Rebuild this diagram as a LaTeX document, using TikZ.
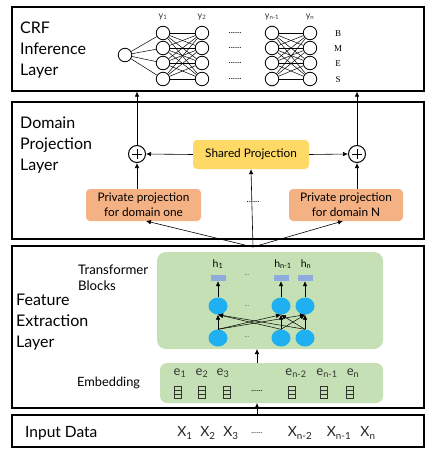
\documentclass[tikz,border=0pt]{standalone}
\usepackage{fontspec}
\setmainfont{Lato}
\newfontfamily\seriffont{Liberation Serif}
\usetikzlibrary{arrows.meta,shapes.geometric}
\definecolor{lgreen}{RGB}{197,224,180}
\definecolor{salmon}{RGB}{244,177,131}
\definecolor{yell}{RGB}{255,217,102}
\definecolor{cyanb}{RGB}{30,176,240}
\definecolor{hblue}{RGB}{143,170,220}
\begin{document}
\begin{tikzpicture}[x=1pt,y=-1pt,
  layerbox/.style={draw, line width=1.2pt, minimum width=412pt, inner sep=0pt},
  title/.style={anchor=north west, align=left, inner sep=0pt, font=\fontsize{16}{21}\selectfont},
  arr/.style={-{Latex[length=5pt,width=4.5pt]}, line width=0.6pt},
  neuron/.style={circle, draw, line width=0.8pt, minimum size=13.5pt, inner sep=0pt},
  lbl/.style={inner sep=0pt, font=\fontsize{9}{10}\selectfont},
  proj/.style={rounded corners=4pt, inner sep=0pt, align=center, font=\fontsize{11.8}{15}\selectfont},
  oplus/.style={circle, draw, line width=1pt, minimum size=17pt, inner sep=0pt},
  bcirc/.style={ellipse, fill=cyanb, minimum width=19pt, minimum height=17pt, inner sep=0pt},
  hrect/.style={fill=hblue, minimum width=15pt, minimum height=6pt, inner sep=0pt},
  greenbox/.style={fill=lgreen, rounded corners=9pt, inner sep=0pt},
  xin/.style={inner sep=0pt, font=\fontsize{14}{15}\selectfont, text=black!85}
]
\useasboundingbox (0,0) rectangle (436,458);

% ---------- layer boxes
\node (crf) [layerbox, minimum height=84pt] at (218,49) {};
\node (dom) [layerbox, minimum height=137pt] at (218,170.5) {};
\node (fea) [layerbox, minimum height=162pt] at (218,327) {};
\node (inp) [layerbox, minimum height=32pt] at (218,431) {};

% ---------- titles
\node (tcrf) [title] at (20,22) {CRF\\Inference\\Layer};
\node (tdom) [title] at (20,117) {Domain\\Projection\\Layer};
\node (tfea) [title] at (16,294) {Feature\\Extraction\\Layer};
\node (ttr) [anchor=west, align=left, inner sep=0pt, font=\fontsize{13.2}{16}\selectfont] at (78,278) {Transformer\\Blocks};
\node (temb) [anchor=west, inner sep=0pt, font=\fontsize{12.8}{14}\selectfont] at (77,383) {Embedding};
\node (tinp) [anchor=west, inner sep=0pt, font=\fontsize{15.5}{17}\selectfont] at (25,433) {Input Data};

% ---------- CRF network
\node (n0) [neuron] at (125,55) {};
\foreach \c/\x in {1/163,2/202,3/272,4/310}{
  \foreach \r/\y in {1/33,2/48,3/63,4/79}{
    \node (c\c r\r) [neuron] at (\x,\y) {};
  }
}
\foreach \r in {1,2,3,4}{
  \draw[line width=0.5pt] (n0) -- (c1r\r);
  \foreach \s in {1,2,3,4}{
    \draw[line width=0.5pt] (c1r\r) -- (c2r\s);
    \draw[line width=0.5pt] (c3r\r) -- (c4r\s);
  }
}
\foreach \r/\y in {1/33,2/48,3/63,4/79}{
  \node (cd\r) [lbl] at (235,\y) {......};
}
\node (y1) [lbl, text=black!80] at (163,17) {y\textsubscript{1}};
\node (y2) [lbl, text=black!80] at (202,17) {y\textsubscript{2}};
\node (y3) [lbl, text=black!80] at (272,17) {y\textsubscript{n-1}};
\node (y4) [lbl, text=black!80] at (310,17) {y\textsubscript{n}};
\node (tb) [lbl, font=\seriffont\fontsize{9}{10}\selectfont] at (338,34) {B};
\node (tm) [lbl, font=\seriffont\fontsize{9}{10}\selectfont] at (338,49) {M};
\node (te) [lbl, font=\seriffont\fontsize{9}{10}\selectfont] at (338,64) {E};
\node (ts) [lbl, font=\seriffont\fontsize{9}{10}\selectfont] at (338,80) {S};

% ---------- domain projection
\node (shared) [proj, fill=yell, minimum width=116pt, minimum height=29pt] at (251,154.5) {Shared Projection};
\node (privL) [proj, fill=salmon, minimum width=115pt, minimum height=32pt] at (143.5,205) {Private projection\\for domain one};
\node (privR) [proj, fill=salmon, minimum width=114pt, minimum height=32pt] at (346,205) {Private projection\\for domain N};
\node (pdots) [lbl] at (253,202) {......};
\node (opL) [oplus] at (137,154) {};
\node (opR) [oplus] at (357,154) {};
\draw[line width=0.9pt] ([yshift=5pt]opL.center) -- ([yshift=-5pt]opL.center) ([xshift=-5pt]opL.center) -- ([xshift=5pt]opL.center);
\draw[line width=0.9pt] ([yshift=5pt]opR.center) -- ([yshift=-5pt]opR.center) ([xshift=-5pt]opR.center) -- ([xshift=5pt]opR.center);

\draw[arr] (shared.west) -- (opL.east);
\draw[arr] (shared.east) -- (opR.west);
\draw[arr] (opL |- privL.north) -- (opL.south);
\draw[arr] (opR |- privR.north) -- (opR.south);
\draw[arr] (opL.north) -- (opL |- crf.south);
\draw[arr] (opR.north) -- (opR |- crf.south);

\coordinate (fan) at (253,247);
\draw[arr] (fan) -- (146,221);
\draw[arr] (fan) -- (343,221);
\draw[arr] (fan) -- (shared.south);

% ---------- transformer
\node (trans) [greenbox, minimum width=226pt, minimum height=97pt] at (270,300.5) {};
\node (emb) [greenbox, rounded corners=7pt, minimum width=223pt, minimum height=40pt] at (271.5,383) {};

\foreach \i/\x in {1/218,2/281,3/305}{
  \node (h\i) [hrect] at (\x,278) {};
  \node (t\i) [bcirc] at (\x,306) {};
  \node (b\i) [bcirc] at (\x,338) {};
  \draw[arr, line width=0.5pt] (t\i.north) -- (h\i.south);
}
\foreach \i in {1,2,3}{
  \foreach \j in {1,2,3}{
    \draw[arr, line width=0.5pt] (b\i.north) -- (t\j.south);
  }
}
\node (hl1) [lbl, font=\fontsize{10.5}{11}\selectfont] at (218,264) {h\textsubscript{1}};
\node (hl2) [lbl, font=\fontsize{10.5}{11}\selectfont] at (283,264) {h\textsubscript{n-1}};
\node (hl3) [lbl, font=\fontsize{10.5}{11}\selectfont] at (306,264) {h\textsubscript{n}};
\node (td1) [lbl, font=\fontsize{7}{8}\selectfont, text=black!60] at (247,275) {...};
\node (td2) [lbl, font=\fontsize{7}{8}\selectfont, text=black!60] at (247,306) {...};
\node (td3) [lbl, font=\fontsize{7}{8}\selectfont, text=black!60] at (247,337) {...};

% embeddings
\foreach \i/\x/\t in {1/180/1,2/202/2,3/223/3,4/296/n-2,5/327/n-1,6/353/n}{
  \node (e\i) [inner sep=0pt, font=\fontsize{13}{14}\selectfont, text=black!80] at (\x,373) {e\textsubscript{\t}};
}
\foreach \x in {178,202,227,292,324,350}{
  \draw[line width=0.5pt, black!80] (\x-3.5,386) rectangle (\x+3.5,398);
  \draw[line width=0.5pt, black!80] (\x-3.5,390) -- (\x+3.5,390) (\x-3.5,394) -- (\x+3.5,394);
}
\node (edots) [lbl, font=\fontsize{8}{9}\selectfont] at (257,391) {......};

\draw[arr] (257,363) -- (257,349);
\draw[arr] (257,415) -- (257,403);

% ---------- input
\node (x1) [xin] at (185,433) {X\textsubscript{1}};
\node (x2) [xin] at (208,433) {X\textsubscript{2}};
\node (x3) [xin] at (231,433) {X\textsubscript{3}};
\node (xd) [xin, font=\fontsize{8}{9}\selectfont] at (257,433) {......};
\node (x4) [xin] at (300,433) {X\textsubscript{n-2}};
\node (x5) [xin] at (339,433) {X\textsubscript{n-1}};
\node (x6) [xin] at (368,433) {X\textsubscript{n}};
\end{tikzpicture}
\end{document}
